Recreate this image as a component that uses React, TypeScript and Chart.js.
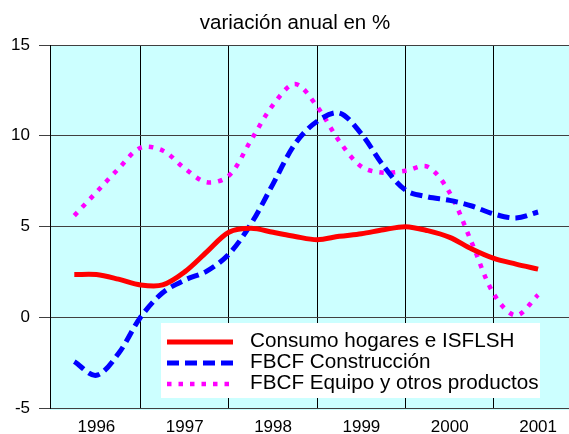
import { useEffect, useRef } from 'react';
import { Chart, registerables } from 'chart.js';

Chart.register(...registerables);

// Quarterly categories (1996 T1 .. 2001 T2)
const quarters = [
  '1996 T1', '1996 T2', '1996 T3', '1996 T4',
  '1997 T1', '1997 T2', '1997 T3', '1997 T4',
  '1998 T1', '1998 T2', '1998 T3', '1998 T4',
  '1999 T1', '1999 T2', '1999 T3', '1999 T4',
  '2000 T1', '2000 T2', '2000 T3', '2000 T4',
  '2001 T1', '2001 T2',
];

const years = ['1996', '1997', '1998', '1999', '2000', '2001'];

const seriesNames = [
  'Consumo hogares e ISFLSH',
  'FBCF Construcción',
  'FBCF Equipo y otros productos',
];

const consumo = [2.35, 2.35, 2.1, 1.78, 1.78, 2.5, 3.6, 4.68, 4.9, 4.68, 4.45, 4.27, 4.46, 4.6, 4.82, 4.99, 4.77, 4.4, 3.76, 3.24, 2.93, 2.65];
const construccion = [-2.45, -3.2, -2.0, 0.0, 1.35, 2.05, 2.54, 3.48, 5.14, 7.35, 9.56, 10.8, 11.25, 10.1, 8.34, 7.0, 6.63, 6.44, 6.13, 5.69, 5.47, 5.8];
const equipo = [5.6, 6.89, 8.18, 9.34, 9.19, 8.2, 7.44, 7.8, 9.75, 11.7, 12.85, 11.6, 9.7, 8.3, 7.96, 8.07, 8.29, 6.85, 4.1, 1.27, 0.1, 1.23];

const TITLE = 'variación anual en %';
const FONT = '"Liberation Sans", Arial, sans-serif';

export default function App() {
  const ref = useRef<HTMLCanvasElement>(null);

  useEffect(() => {
    document.body.style.margin = '0';
    const canvas = ref.current;
    if (!canvas) return;

    const toPts = (arr: number[]) => arr.map((v, i) => ({ x: i + 1, y: v }));
    const yearLabelPos = years.map((_, i) => 4 * i + 2);
    const yearBoundaryPos = years.slice(1).map((_, i) => 4 * (i + 1));

    const bgPlugin = {
      id: 'bgPlugin',
      beforeDraw(c: any) {
        const { ctx, chartArea: a } = c;
        ctx.save();
        ctx.fillStyle = '#CCFFFF';
        ctx.fillRect(a.left, a.top, a.right - a.left, a.bottom - a.top + 2);
        ctx.restore();
      },
    };

    const decoPlugin = {
      id: 'decoPlugin',
      afterDraw(c: any) {
        const ctx = c.ctx as CanvasRenderingContext2D;
        ctx.save();
        // title
        ctx.fillStyle = '#000';
        ctx.font = `20.5px ${FONT}`;
        ctx.textAlign = 'center';
        ctx.textBaseline = 'middle';
        ctx.fillText(TITLE, 295, 23);

        // legend box
        ctx.fillStyle = '#FFFFFF';
        ctx.fillRect(161, 323, 379, 75);
        const rows = [342, 363, 384];
        c.data.datasets.forEach((ds: any, i: number) => {
          const y = rows[i];
          ctx.beginPath();
          ctx.strokeStyle = ds.borderColor;
          ctx.lineWidth = ds.borderWidth;
          ctx.lineCap = 'butt';
          ctx.setLineDash(ds.borderDash || []);
          ctx.moveTo(167, y);
          ctx.lineTo(233, y);
          ctx.stroke();
          ctx.setLineDash([]);
          ctx.fillStyle = '#000';
          ctx.font = `20.7px ${FONT}`;
          ctx.textAlign = 'left';
          ctx.textBaseline = 'middle';
          ctx.fillText(ds.label, 250, y - 1);
        });
        ctx.restore();
      },
    };

    const chart = new Chart(canvas, {
      type: 'line',
      data: {
        labels: quarters,
        datasets: [
          {
            label: seriesNames[0],
            data: toPts(consumo),
            borderColor: '#FF0000',
            borderWidth: 5,
            pointRadius: 0,
            tension: 0.33,
            fill: false,
          },
          {
            label: seriesNames[1],
            data: toPts(construccion),
            borderColor: '#0000FF',
            borderWidth: 5,
            borderDash: [12, 6],
            pointRadius: 0,
            tension: 0.33,
            fill: false,
          },
          {
            label: seriesNames[2],
            data: toPts(equipo),
            borderColor: '#FF00FF',
            borderWidth: 4.5,
            borderDash: [4.5, 7],
            pointRadius: 0,
            tension: 0.33,
            fill: false,
          },
        ],
      },
      options: {
        responsive: false,
        devicePixelRatio: 1,
        animation: false,
        layout: { padding: { top: 45, left: 0, right: 0, bottom: 0 } },
        plugins: {
          legend: { display: false },
          title: { display: false },
          tooltip: { enabled: false },
        },
        scales: {
          x: {
            type: 'linear',
            position: 'bottom',
            min: -0.1,
            max: 23.4,
            afterBuildTicks: (s: any) => {
              s.ticks = yearLabelPos.map((v) => ({ value: v }));
            },
            afterFit: (s: any) => {
              s.height = 26;
            },
            ticks: {
              autoSkip: false,
              maxRotation: 0,
              padding: 9,
              color: '#000',
              font: { family: FONT, size: 17 },
              callback: (v: any) => {
                const idx = yearLabelPos.indexOf(Number(v));
                return idx >= 0 ? years[idx] : '';
              },
            },
            grid: { display: false, drawTicks: false, tickLength: 0 },
            border: { display: false },
          },
          xg: {
            type: 'linear',
            position: 'bottom',
            min: -0.1,
            max: 23.4,
            afterBuildTicks: (s: any) => {
              s.ticks = yearBoundaryPos.map((v) => ({ value: v }));
            },
            afterFit: (s: any) => {
              s.height = 0;
            },
            ticks: { display: false },
            grid: { color: '#000', drawTicks: false, lineWidth: 1 },
            border: { display: false },
          },
          y: {
            min: -5,
            max: 15,
            afterFit: (s: any) => {
              s.width = 50;
            },
            ticks: {
              stepSize: 5,
              padding: 9,
              color: '#000',
              font: { family: FONT, size: 17 },
            },
            grid: { color: '#404040', tickLength: 11, drawTicks: true, lineWidth: 1 },
            border: { display: true, color: '#000', width: 1 },
          },
        },
      } as any,
      plugins: [bgPlugin, decoPlugin],
    });

    return () => chart.destroy();
  }, []);

  return <canvas ref={ref} width={569} height={434} style={{ display: 'block' }} />;
}
